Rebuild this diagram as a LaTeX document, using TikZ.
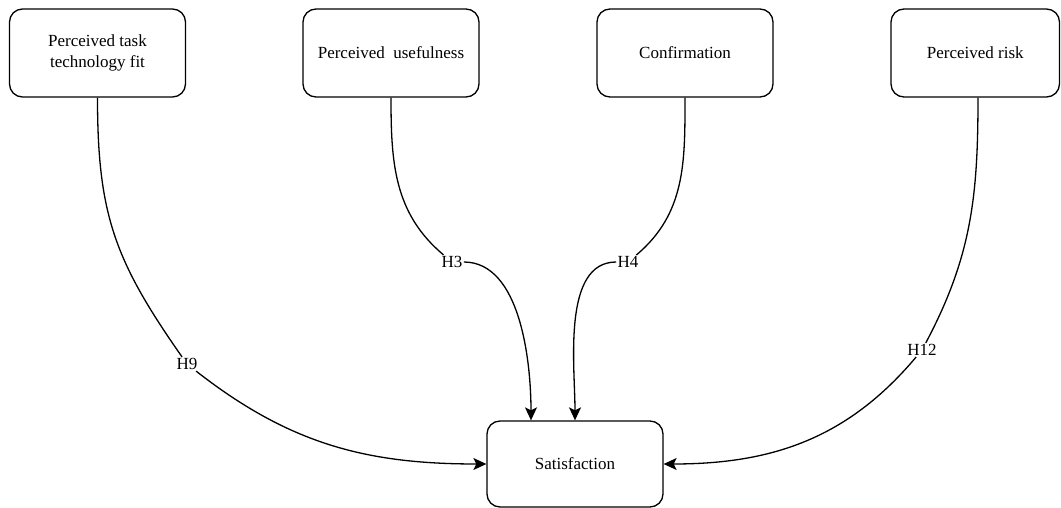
\documentclass[tikz,border=0pt]{standalone}
\usepackage{fontspec}
\setmainfont{Liberation Serif}
\usetikzlibrary{arrows.meta}
\begin{document}
\begin{tikzpicture}[x=1pt,y=1pt,
  box/.style={draw, line width=1.3pt, rounded corners=13pt, minimum width=176pt,
    minimum height=88pt, align=center, inner sep=0pt,
    font=\fontsize{17}{21}\selectfont},
  lbl/.style={fill=white, inner sep=1.2pt, font=\fontsize{17}{20}\selectfont},
  link/.style={line width=1.3pt},
  tip/.style={link, -{Stealth[length=13pt,width=12pt,inset=3pt]}}]
\useasboundingbox (0,0) rectangle (1061,-508);

% constructs
\node[box] (b1) at (97.5,-53) {Perceived task\\technology fit};
\node[box] (b2) at (391,-53) {Perceived\ \ usefulness};
\node[box] (b3) at (685,-53) {Confirmation};
\node[box, minimum width=168.5pt] (b4) at (975.25,-53) {Perceived risk};
\node[box, minimum height=86pt] (sat) at (575,-464) {Satisfaction};

% hypothesis labels
\node[lbl] (h9) at (187,-364) {H9};
\node[lbl] (h3) at (452,-262) {H3};
\node[lbl] (h4) at (628,-262) {H4};
\node[lbl] (h12) at (922,-350) {H12};

% paths
\draw[link] (b1.south) to[out=-90, in=125, looseness=1.1] (h9);
\draw[tip] (h9) to[out=-38, in=180] (sat.west);

\draw[link] (b2.south) to[out=-90, in=140] (h3);
\draw[tip] (h3) to[out=0, in=90, looseness=0.85] ([xshift=-44pt]sat.north);

\draw[link] (b3.south) to[out=-90, in=40] (h4);
\draw[tip] (h4) to[out=180, in=90, looseness=0.85] (sat.north);

\draw[link] ([xshift=2.75pt]b4.south) to[out=-90, in=62] (h12);
\draw[tip] (h12) to[out=-130, in=0] (sat.east);
\end{tikzpicture}
\end{document}
